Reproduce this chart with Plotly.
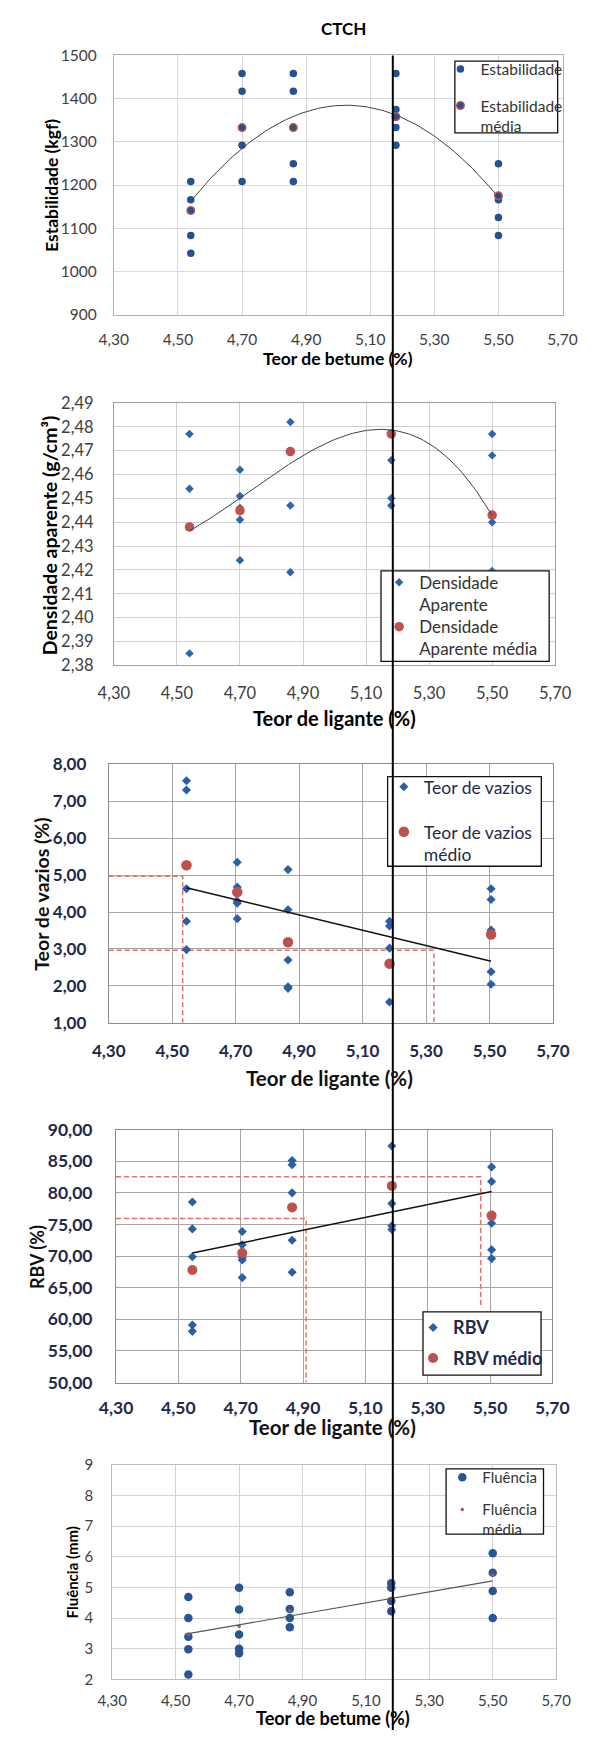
import numpy as np
import plotly.graph_objects as go

W, H = 597, 1740
FONT = "Lato"

# ------------------------------------------------------------------ data
titulo = "CTCH"
x_ticks = [4.30, 4.50, 4.70, 4.90, 5.10, 5.30, 5.50, 5.70]

# Estabilidade (kgf)
est_teor = [4.54, 4.70, 4.86, 5.18, 5.50]
est_ensaios = [[1208, 1166, 1083, 1042],
               [1458, 1417, 1292, 1208],
               [1458, 1417, 1249, 1208],
               [1458, 1375, 1333, 1292],
               [1249, 1166, 1125, 1083]]
est_media = [1141, 1333, 1333, 1358, 1175]

# Densidade aparente (g/cm3)
dens_teor = [4.54, 4.70, 4.86, 5.18, 5.50]
dens_ensaios = [[2.477, 2.454, 2.385],
                [2.462, 2.451, 2.446, 2.441, 2.424],
                [2.482, 2.447, 2.419],
                [2.466, 2.450, 2.447],
                [2.477, 2.468, 2.440, 2.4195]]
dens_media = [2.438, 2.4448, 2.4696, 2.477, 2.443]

# Teor de vazios (%)
vaz_teor = [4.545, 4.705, 4.865, 5.185, 5.505]
vaz_ensaios = [[7.56, 7.31, 4.63, 3.75, 2.98],
               [5.35, 4.68, 4.30, 4.24, 3.82],
               [5.15, 4.06, 2.70, 1.97, 1.93],
               [3.75, 3.62, 3.02, 1.56, 0.99],
               [4.63, 4.34, 3.51, 2.38, 2.04]]
vaz_media = [5.27, 4.54, 3.18, 2.60, 3.39]
vaz_ref_nivel = [4.97, 2.96]
vaz_ref_teor = [4.533, 5.325]

# RBV (%)
rbv_teor = [4.545, 4.705, 4.865, 5.185, 5.505]
rbv_ensaios = [[78.55, 74.3, 69.9, 59.1, 58.1],
               [73.9, 71.8, 69.8, 69.4, 66.6],
               [85.1, 84.45, 80.0, 72.5, 67.45],
               [87.4, 78.3, 74.8, 74.2],
               [84.1, 81.8, 75.2, 71.0, 69.6]]
rbv_media = [67.8, 70.5, 77.7, 81.1, 76.4]
rbv_ref_nivel = [75.94, 82.55]
rbv_ref_teor = [4.91, 5.47]
rbv_ref_fim = [50.0, 61.97]

# Fluencia (mm)
flu_teor = [4.54, 4.70, 4.86, 5.18, 5.50]
flu_ensaios = [[4.69, 4.00, 3.39, 2.98, 2.16],
               [4.99, 4.28, 3.46, 3.00, 2.85],
               [4.84, 4.30, 4.00, 3.70],
               [5.14, 4.99, 4.56, 4.22],
               [6.12, 5.48, 4.88, 4.00]]
flu_media = [3.46, 3.73, 4.25, 4.64, 5.40]

# ------------------------------------------------------------------ helpers
def fx(px):
    return px / W

def fy(py):
    return 1 - py / H

def flat(teor, ensaios):
    xs = [t for t, v in zip(teor, ensaios) for _ in v]
    ys = [y for v in ensaios for y in v]
    return xs, ys

BLUE_C = "#24518f"
BLUE_D = "#2d66ae"
BLUE_D2 = "#2a5ea6"
RED = "#c0504d"
DASH_RED = "#e07070"

fig = go.Figure()

# panel definitions (pixel boxes of plot areas)
panels = [
    dict(box=(102.7, 578.5, 45.0, 307.3), yr=[900, 1500], dy=100, yfmt="d",
         tfs=15.5, tcol="#404040", tw="normal", grid="#d9d9d9", line="#b0b0b0",
         xlen=11, ylen=13),
    dict(box=(102.7, 570.7, 396.7, 662.3), yr=[2.38, 2.49], dy=0.01, yfmt=".2f",
         tfs=16.5, tcol="#404040", tw="normal", grid="#d0d0d0", line="#a0a0a0",
         xlen=13, ylen=16),
    dict(box=(97.3, 568.3, 762.7, 1024.0), yr=[1, 8], dy=1, yfmt=".2f",
         tfs=17, tcol="#1f2a4a", tw="bold", grid="#a6a6a6", line="#8c8c8c",
         xlen=13, ylen=18),
    dict(box=(105.0, 567.7, 1132.3, 1388.3), yr=[50, 90], dy=5, yfmt=".2f",
         tfs=17.5, tcol="#1f2a4a", tw="bold", grid="#a6a6a6", line="#8c8c8c",
         xlen=9, ylen=19),
    dict(box=(101.0, 571.7, 1471.7, 1688.7), yr=[2, 9], dy=1, yfmt="d",
         tfs=15, tcol="#404040", tw="normal", grid="#d4d4d4", line="#bdbdbd",
         xlen=8, ylen=15),
]

layout = dict(width=W, height=H, margin=dict(l=0, r=0, t=0, b=0), autosize=False,
              paper_bgcolor="white", plot_bgcolor="white", separators=",.",
              font=dict(family=FONT, color="#222"), showlegend=True)

for i, p in enumerate(panels):
    k = "" if i == 0 else str(i + 1)
    l, r, t, b = p["box"]
    tf = dict(family=FONT, size=p["tfs"], color=p["tcol"], weight=p["tw"])
    layout["xaxis" + k] = dict(domain=[fx(l), fx(r)], range=[4.3, 5.7], tickvals=x_ticks,
                               tickformat=".2f", showgrid=True, gridcolor=p["grid"], gridwidth=1,
                               showline=True, mirror=True, linecolor=p["line"], linewidth=1,
                               zeroline=False, ticks="outside", ticklen=p["xlen"],
                               tickcolor="rgba(0,0,0,0)", tickfont=tf,
                               anchor="y" + k, fixedrange=True)
    layout["yaxis" + k] = dict(domain=[fy(b), fy(t)], range=p["yr"], dtick=p["dy"],
                               tick0=p["yr"][0], tickformat=p["yfmt"], showgrid=True,
                               gridcolor=p["grid"], gridwidth=1, showline=True, mirror=True,
                               linecolor=p["line"], linewidth=1, zeroline=False,
                               ticks="outside", ticklen=p["ylen"], tickcolor="rgba(0,0,0,0)",
                               tickfont=tf, anchor="x" + k, fixedrange=True)

# ---------------- panel 1
xs, ys = flat(est_teor, est_ensaios)
fig.add_trace(go.Scatter(x=xs, y=ys, mode="markers", name="Estabilidade", legend="legend",
                         marker=dict(symbol="circle", size=7.5, color=BLUE_C),
                         cliponaxis=False, xaxis="x", yaxis="y"))
fig.add_trace(go.Scatter(x=est_teor, y=est_media, mode="markers", name="Estabilidade<br>média",
                         legend="legend2",
                         marker=dict(symbol="circle", size=7.5, color=BLUE_C,
                                     line=dict(color=RED, width=1.5)),
                         cliponaxis=False, xaxis="x", yaxis="y"))
c = np.polyfit(est_teor, est_media, 2)
xx = np.linspace(min(est_teor), max(est_teor), 120)
fig.add_trace(go.Scatter(x=xx, y=np.polyval(c, xx), mode="lines", showlegend=False,
                         line=dict(color="#404040", width=1), xaxis="x", yaxis="y"))

# ---------------- panel 2
xs, ys = flat(dens_teor, dens_ensaios)
fig.add_trace(go.Scatter(x=xs, y=ys, mode="markers", name="Densidade<br>Aparente", legend="legend3",
                         marker=dict(symbol="diamond", size=6.5, color=BLUE_D),
                         cliponaxis=False, xaxis="x2", yaxis="y2"))
fig.add_trace(go.Scatter(x=dens_teor, y=dens_media, mode="markers",
                         name="Densidade<br>Aparente média", legend="legend4",
                         marker=dict(symbol="circle", size=9.5, color=RED),
                         cliponaxis=False, xaxis="x2", yaxis="y2"))
c = np.polyfit(dens_teor, dens_media, 3)
xx = np.linspace(min(dens_teor), max(dens_teor), 120)
fig.add_trace(go.Scatter(x=xx, y=np.polyval(c, xx), mode="lines", showlegend=False,
                         line=dict(color="#404040", width=1), xaxis="x2", yaxis="y2"))

# ---------------- panel 3
y0 = panels[2]["yr"][0]
x0 = 4.3
for lvl, tt in zip(vaz_ref_nivel, vaz_ref_teor):
    fig.add_trace(go.Scatter(x=[x0, tt, tt], y=[lvl, lvl, y0], mode="lines", showlegend=False,
                             line=dict(color=DASH_RED, width=1.5, dash="5px,3px"),
                             xaxis="x3", yaxis="y3"))
xs, ys = flat(vaz_teor, vaz_ensaios)
fig.add_trace(go.Scatter(x=xs, y=ys, mode="markers", name="Teor de vazios", legend="legend5",
                         marker=dict(symbol="diamond", size=7, color=BLUE_D2),
                         cliponaxis=False, xaxis="x3", yaxis="y3"))
fig.add_trace(go.Scatter(x=vaz_teor, y=vaz_media, mode="markers", name="Teor de vazios<br>médio",
                         legend="legend6", marker=dict(symbol="circle", size=10.5, color=RED),
                         cliponaxis=False, xaxis="x3", yaxis="y3"))
c = np.polyfit(vaz_teor, vaz_media, 1)
xx = np.array([min(vaz_teor), max(vaz_teor)])
fig.add_trace(go.Scatter(x=xx, y=np.polyval(c, xx), mode="lines", showlegend=False,
                         line=dict(color="#111", width=1.5), xaxis="x3", yaxis="y3"))

# ---------------- panel 4
for lvl, tt, fim in zip(rbv_ref_nivel, rbv_ref_teor, rbv_ref_fim):
    fig.add_trace(go.Scatter(x=[x0, tt, tt], y=[lvl, lvl, fim], mode="lines", showlegend=False,
                             line=dict(color=DASH_RED, width=1.5, dash="5px,3px"),
                             xaxis="x4", yaxis="y4"))
xs, ys = flat(rbv_teor, rbv_ensaios)
fig.add_trace(go.Scatter(x=xs, y=ys, mode="markers", name="RBV", legend="legend7",
                         marker=dict(symbol="diamond", size=7, color=BLUE_D2),
                         cliponaxis=False, xaxis="x4", yaxis="y4"))
fig.add_trace(go.Scatter(x=rbv_teor, y=rbv_media, mode="markers", name="RBV médio",
                         legend="legend8", marker=dict(symbol="circle", size=10, color=RED),
                         cliponaxis=False, xaxis="x4", yaxis="y4"))
c = np.polyfit(rbv_teor, rbv_media, 1)
xx = np.array([min(rbv_teor), max(rbv_teor)])
fig.add_trace(go.Scatter(x=xx, y=np.polyval(c, xx), mode="lines", showlegend=False,
                         line=dict(color="#111", width=1.5), xaxis="x4", yaxis="y4"))

# ---------------- panel 5
xs, ys = flat(flu_teor, flu_ensaios)
fig.add_trace(go.Scatter(x=xs, y=ys, mode="markers", name="Fluência", legend="legend9",
                         marker=dict(symbol="circle", size=8.5, color="#275595"),
                         cliponaxis=False, xaxis="x5", yaxis="y5"))
fig.add_trace(go.Scatter(x=flu_teor, y=flu_media, mode="markers", name="Fluência<br>média",
                         legend="legend10", marker=dict(symbol="circle", size=3.5, color=RED),
                         cliponaxis=False, xaxis="x5", yaxis="y5"))
c = np.polyfit(xs, ys, 1)
xx = np.array([min(flu_teor), max(flu_teor)])
fig.add_trace(go.Scatter(x=xx, y=np.polyval(c, xx), mode="lines", showlegend=False,
                         line=dict(color="#555", width=1.2), xaxis="x5", yaxis="y5"))

# ------------------------------------------------------------------ legends
def leg(mx, my, fs, color, weight="normal"):
    left = mx - 20
    top = my - 6.5 - 0.65 * fs
    return dict(x=fx(left), y=fy(top), xanchor="left", yanchor="top",
                bgcolor="rgba(0,0,0,0)", borderwidth=0, valign="top",
                font=dict(family=FONT, size=fs, color=color, weight=weight))

legs = [
    (469, 58.5, 15.5, "#333", "normal"),
    (469, 95.5, 15.5, "#333", "normal"),
    (404, 578, 17, "#333", "normal"),
    (404, 623, 17, "#333", "normal"),
    (409, 785, 17.5, "#1f2a4a", "normal"),
    (409, 830.5, 17.5, "#1f2a4a", "normal"),
    (440, 1332.3, 18, "#1f2a4a", "bold"),
    (440, 1363.3, 18, "#1f2a4a", "bold"),
    (471, 1484, 15, "#333", "normal"),
    (471, 1516.5, 15, "#333", "normal"),
]
for i, a in enumerate(legs):
    layout["legend" if i == 0 else "legend" + str(i + 1)] = leg(*a)

# legend frames (white boxes) + vertical reference line on top
frames = [(464.3, 573.3, 50.7, 123.3), (386.0, 564.3, 566.7, 658.3),
          (393.0, 556.0, 775.0, 865.7), (430.5, 555.7, 1316.7, 1380.7),
          (455.0, 558.3, 1475.7, 1541.7)]
shapes = []
for (l, r, t, b) in frames:
    shapes.append(dict(type="rect", xref="paper", yref="paper", x0=fx(l), x1=fx(r),
                       y0=fy(b), y1=fy(t), fillcolor="white",
                       line=dict(color="#111", width=1.3), layer="above"))
shapes.append(dict(type="line", xref="paper", yref="paper", x0=fx(398.5), x1=fx(398.5),
                   y0=fy(45), y1=0, line=dict(color="black", width=2), layer="above"))
layout["shapes"] = shapes

# ------------------------------------------------------------------ titles
def ann(text, px, py, fs, color="#000", angle=0, weight="bold"):
    return dict(text=text, x=fx(px), y=fy(py), xref="paper", yref="paper",
                xanchor="center", yanchor="middle", showarrow=False, textangle=angle,
                font=dict(family=FONT, size=fs, color=color, weight=weight))

layout["annotations"] = [
    ann(titulo, 346.7, 17.3, 17),
    ann("Teor de betume (%)", 340.6, 352, 17.5),
    ann("Estabilidade (kgf)", 36.7, 176.5, 17.5, angle=-90),
    ann("Teor de ligante (%)", 336.5, 716, 20),
    ann("Densidade aparente (g/cm³)", 34.1, 530.5, 19.5, angle=-90),
    ann("Teor de ligante (%)", 331.8, 1080, 20.5, color="#111"),
    ann("Teor de vazios (%)", 26, 894, 19.5, color="#111", angle=-90),
    ann("Teor de ligante (%)", 334.8, 1433, 20.5, color="#111"),
    ann("RBV (%)", 21.5, 1261, 18, color="#111", angle=-90),
    ann("Teor de betume (%)", 335.4, 1728.3, 18),
    ann("Fluência (mm)", 58.3, 1580.5, 15, angle=-90),
]

fig.update_layout(**layout)
fig.write_html("out.html")
